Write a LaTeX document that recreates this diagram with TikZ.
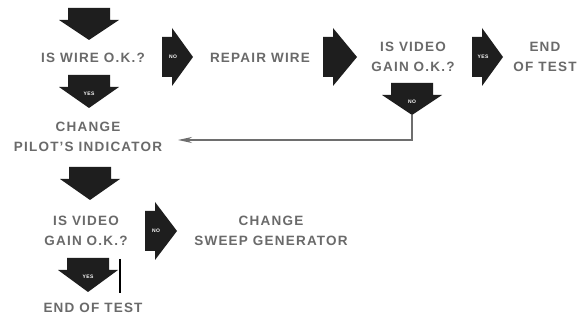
\documentclass[tikz,border=0pt]{standalone}
\usepackage{fontspec}
\setmainfont{Liberation Sans}[LetterSpace=9]
\usetikzlibrary{arrows.meta}
\definecolor{blkc}{HTML}{1E1E1E}
\definecolor{txtgray}{HTML}{6A6A6A}
\definecolor{linegray}{HTML}{6E6E6E}
\tikzset{
  lbl/.style={text=txtgray, font=\fontsize{13.5}{20}\selectfont\bfseries, align=center, inner sep=0pt},
  blk/.style={fill=blkc},
  tag/.style={text=white, font=\fontsize{5}{6}\selectfont\bfseries, inner sep=0pt},
  conn/.style={draw=linegray, line width=1.5pt, -{Stealth[length=14pt,width=6pt]}},
}
\newcommand{\DownBlk}[5]{%
  \fill[blk] (#2-21,#3) -- (#2+21,#3) -- (#2+21,#3+12) -- (#2+30,#3+12) -- (#2,#4) -- (#2-30,#3+12) -- (#2-21,#3+12) -- cycle;
  \node[tag] (#1) at (#2,#3+19) {#5};
}
\newcommand{\RightBlk}[5]{%
  \fill[blk] (#2,#4-20) -- (#2+10,#4-20) -- (#2+10,#4-29) -- (#3,#4) -- (#2+10,#4+29) -- (#2+10,#4+20) -- (#2,#4+20) -- cycle;
  \node[tag] (#1) at (#2+11,#4) {#5};
}
\begin{document}
\begin{tikzpicture}[x=1pt,y=-1pt]
\useasboundingbox[fill=white] (0,0) rectangle (581,320);
% block arrows
\DownBlk{a0}{89}{8}{40}{}
\RightBlk{no1}{162}{193}{57}{NO}
\RightBlk{r2}{323}{357}{57}{}
\RightBlk{yes1}{472}{503}{57}{YES}
\DownBlk{no2}{412}{83}{115}{NO}
\DownBlk{yes2}{89}{75}{108}{YES}
\DownBlk{d3}{90}{167}{200}{}
\RightBlk{no3}{145}{177}{231}{NO}
\DownBlk{yes3}{88}{258}{292}{YES}
% texts
\node[lbl] (wire) at (93,58) {IS WIRE O.K.?};
\node[lbl] (repair) at (260,58) {REPAIR WIRE};
\node[lbl] (gain1) at (413,57) {IS VIDEO\\GAIN O.K.?};
\node[lbl] (end1) at (545,57) {END\\OF TEST};
\node[lbl] (pilot) at (88,137) {CHANGE\\PILOT'S INDICATOR};
\node[lbl] (gain2) at (86,231) {IS VIDEO\\GAIN O.K.?};
\node[lbl] (sweep) at (271,231) {CHANGE\\SWEEP GENERATOR};
\node[lbl] (end2) at (93,308) {END OF TEST};
% connector
\coordinate (no2tip) at (412,115);
\coordinate (pilotin) at (178,140);
\draw[conn] (no2tip) |- (pilotin);
% stray mark
\coordinate (m1) at (120,259);
\coordinate (m2) at (120,293);
\draw[line width=1.6pt, black] (m1) -- (m2);
\end{tikzpicture}
\end{document}
